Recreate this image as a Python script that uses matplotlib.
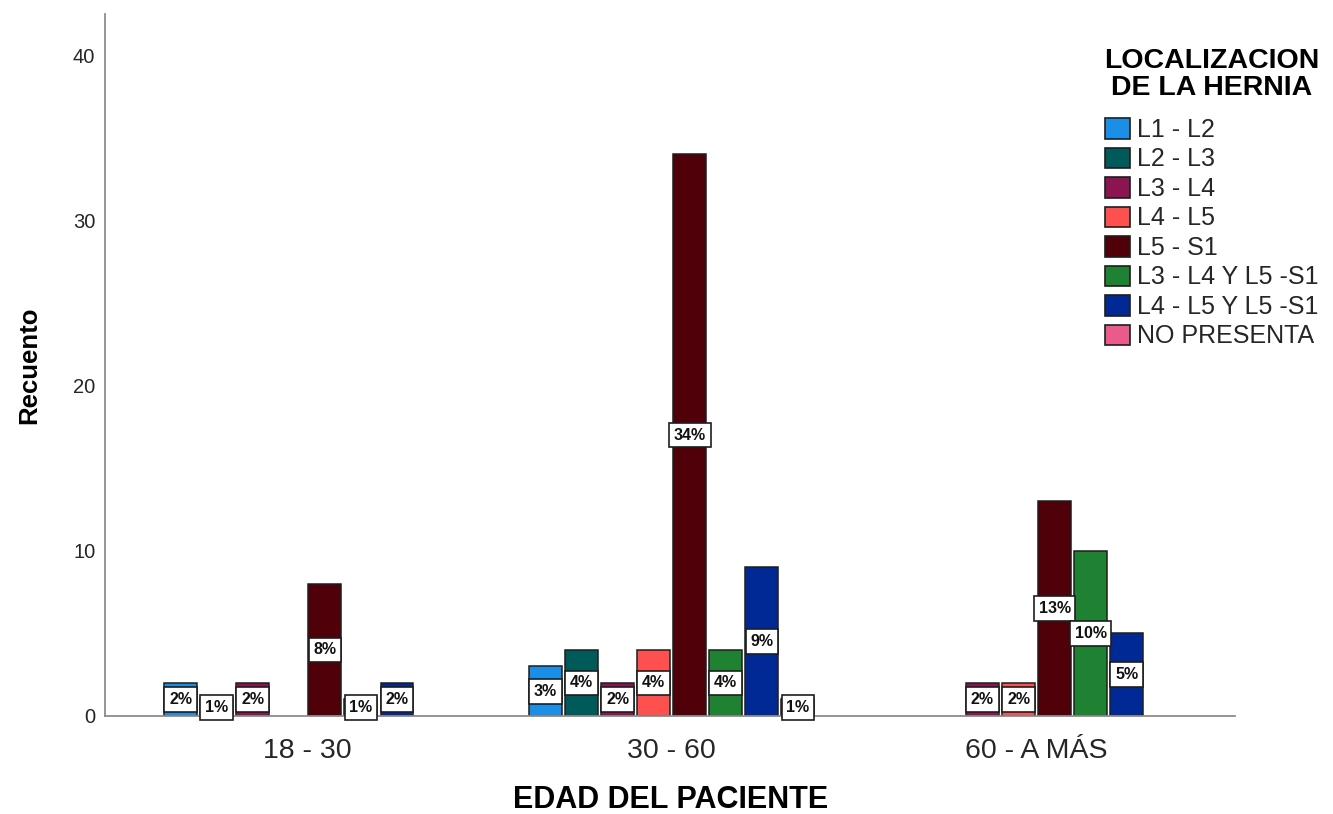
import numpy as np
import matplotlib.pyplot as plt
from matplotlib.patches import Patch

# age groups and hernia location counts
groups = ['18 - 30', '30 - 60', '60 - A MÁS']
locations = ['L1 - L2', 'L2 - L3', 'L3 - L4', 'L4 - L5', 'L5 - S1',
             'L3 - L4 Y L5 -S1', 'L4 - L5 Y L5 -S1', 'NO PRESENTA']
colors = ['#1B8FE6', '#005A5A', '#8C1450', '#FF5050', '#500008',
          '#1E8232', '#002996', '#EB5A8C']

counts = {
    'L1 - L2':          [2, 3, 0],
    'L2 - L3':          [1, 4, 0],
    'L3 - L4':          [2, 2, 2],
    'L4 - L5':          [0, 4, 2],
    'L5 - S1':          [8, 34, 13],
    'L3 - L4 Y L5 -S1': [1, 4, 10],
    'L4 - L5 Y L5 -S1': [2, 9, 5],
    'NO PRESENTA':      [0, 1, 0],
}
pct_labels = {
    'L1 - L2':          ['2%', '3%', None],
    'L2 - L3':          ['1%', '4%', None],
    'L3 - L4':          ['2%', '2%', '2%'],
    'L4 - L5':          [None, '4%', '2%'],
    'L5 - S1':          ['8%', '34%', '13%'],
    'L3 - L4 Y L5 -S1': ['1%', '4%', '10%'],
    'L4 - L5 Y L5 -S1': ['2%', '9%', '5%'],
    'NO PRESENTA':      [None, '1%', None],
}

plt.rcParams['font.family'] = ['Liberation Sans', 'DejaVu Sans']

fig = plt.figure(figsize=(13.33, 8.14), dpi=100)
ax = fig.add_axes([0.0788, 0.1204, 0.848, 0.8624])

x = np.arange(len(groups))
step = 0.0988
n = len(locations)
for i, loc in enumerate(locations):
    pos = x + (i - (n - 1) / 2) * step
    vals = np.array(counts[loc], dtype=float)
    shown = vals > 0
    ax.bar(pos[shown], vals[shown], step * 0.91, color=colors[i],
           edgecolor='#1e1e1e', linewidth=1.1, zorder=2)
    for p, v, lab in zip(pos, vals, pct_labels[loc]):
        if lab is None:
            continue
        ax.text(p, v / 2, lab, ha='center', va='center', fontsize=11.5, fontweight='bold',
                color='#111111', zorder=4,
                bbox=dict(boxstyle='square,pad=0.3', facecolor='white',
                          edgecolor='#1e1e1e', linewidth=1.2))

ax.set_xlim(-0.553, 2.545)
ax.set_ylim(0, 42.5)
ax.set_yticks([0, 10, 20, 30, 40])
ax.set_xticks(x)
ax.set_xticklabels(groups, fontsize=20.5, color='#262626')
ax.tick_params(axis='x', length=0, pad=16)
ax.tick_params(axis='y', length=0, pad=7, labelsize=14.5, labelcolor='#262626')
for s in ['top', 'right']:
    ax.spines[s].set_visible(False)
for s in ['left', 'bottom']:
    ax.spines[s].set_color('#8c8c8c')
    ax.spines[s].set_linewidth(1.3)

ax.set_xlabel('EDAD DEL PACIENTE', fontsize=22, fontweight='bold', labelpad=15)
ax.set_ylabel('Recuento', fontsize=18.5, fontweight='bold', labelpad=23)

handles = [Patch(facecolor=c, edgecolor='#1e1e1e', linewidth=1.2) for c in colors]
leg = ax.legend(handles, locations, title='LOCALIZACION\nDE LA HERNIA', loc='upper left',
                bbox_to_anchor=(0.819, 0.956), bbox_transform=fig.transFigure,
                frameon=False, fontsize=18, handlelength=1.0, handleheight=0.88,
                handletextpad=0.28, labelspacing=0.22, borderpad=0)
for t in leg.get_texts():
    t.set_color('#262626')
leg.get_title().set_fontsize(20.5)
leg.get_title().set_fontweight('bold')
leg.get_title().set_multialignment('center')
leg.get_title().set_linespacing(1.05)
leg._legend_box.sep = 12

fig.savefig('out.png', dpi=100)
